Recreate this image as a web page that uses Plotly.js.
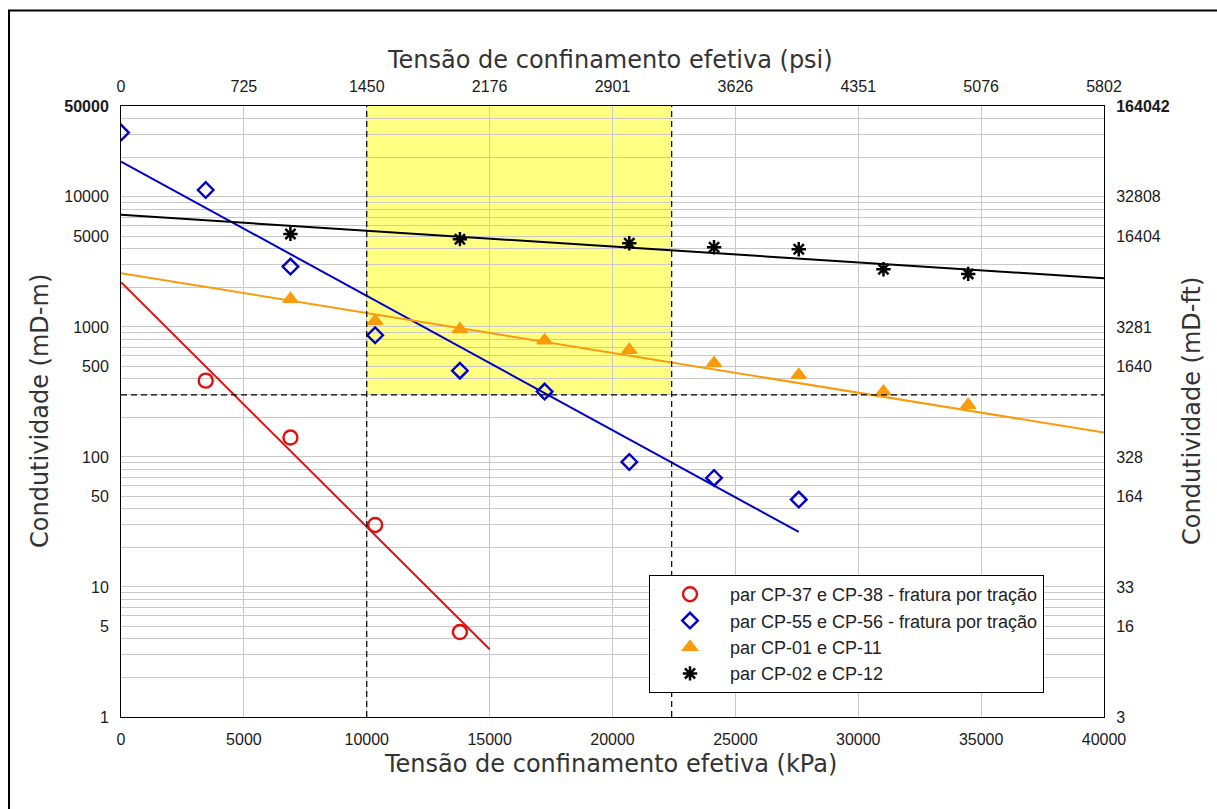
<!DOCTYPE html>
<html>
<head>
<meta charset="utf-8">
<script src="https://cdn.plot.ly/plotly-3.0.1.min.js"></script>
<style>
  html, body { margin: 0; padding: 0; background: #ffffff; }
  #grafico { width: 1217px; height: 809px; }
</style>
</head>
<body>
<div id="grafico"></div>
<script>
// Ensaios de condutividade: pares de corpos de prova (CP)
const nomesSeries = [
  'par CP-37 e CP-38 - fratura por tração',
  'par CP-55 e CP-56 - fratura por tração',
  'par CP-01 e CP-11',
  'par CP-02 e CP-12'
];

// Tensão de confinamento efetiva (kPa) e condutividade (mD-m) medidas
const tensaoCP37 = [3447, 6895, 10342, 13790];
const condCP37 = [386, 141, 30, 4.5];

const tensaoCP55 = [0, 3447, 6895, 10342, 13790, 17237, 20684, 24132, 27579];
const condCP55 = [31250, 11300, 2910, 863, 461, 318, 91.5, 69, 47];

const tensaoCP01 = [6895, 10342, 13790, 17237, 20684, 24132, 27579, 31026, 34474];
const condCP01 = [1640, 1110, 960, 785, 665, 526, 427, 318, 251];

const tensaoCP02 = [6895, 13790, 20684, 24132, 27579, 31026, 34474];
const condCP02 = [5190, 4730, 4400, 4100, 3960, 2780, 2557];

// Curvas de ajuste exponencial (extremos de cada reta no gráfico semilog)
const ajusteTensaoCP37 = [0, 15000];
const ajusteCondCP37 = [2207, 3.32];
const ajusteTensaoCP55 = [0, 27579];
const ajusteCondCP55 = [18700, 26.5];
const ajusteTensaoCP01 = [0, 40000];
const ajusteCondCP01 = [2588, 154];
const ajusteTensaoCP02 = [0, 40000];
const ajusteCondCP02 = [7275, 2370];

// Janela de interesse: tensão entre 10000 e 22408 kPa, condutividade acima de 300 mD-m
const janelaTensao = [10000, 22408];
const janelaCondMin = 300;

// Eixos
const ticksKPa = [0, 5000, 10000, 15000, 20000, 25000, 30000, 35000, 40000];
const rotulosPsi = ['0', '725', '1450', '2176', '2901', '3626', '4351', '5076', '5802'];
const ticksCond = [1, 5, 10, 50, 100, 500, 1000, 5000, 10000, 50000];
const rotulosMDm = ['1', '5', '10', '50', '100', '500', '1000', '5000', '10000', '<b>50000</b>'];
const rotulosMDft = ['3', '16', '33', '164', '328', '1640', '3281', '16404', '32808', '<b>164042</b>'];
const gradeSecundaria = [2, 3, 4, 6, 7, 8, 9, 20, 30, 40, 60, 70, 80, 90,
  200, 300, 400, 600, 700, 800, 900, 2000, 3000, 4000, 6000, 7000, 8000, 9000,
  20000, 30000, 40000];

const W = 1217, H = 809;
const M = { l: 121, r: 113, t: 106, b: 92 };
const pw = W - M.l - M.r, ph = H - M.t - M.b;
const px = x => (x - M.l) / pw;
const py = y => (H - M.b - y) / ph;

const corVermelho = '#e01010';
const corAzul = '#0000c8';
const corLaranja = '#f99b0c';
const corPreto = '#000000';
const fonteNum = 'Liberation Sans, Arial, sans-serif';
const fonteTitulo = 'DejaVu Sans, sans-serif';

const linha = (x, y, cor) => ({
  x, y, type: 'scatter', mode: 'lines', showlegend: false, hoverinfo: 'skip',
  line: { color: cor, width: 2 }
});

const traces = [
  linha(ajusteTensaoCP37, ajusteCondCP37, corVermelho),
  linha(ajusteTensaoCP55, ajusteCondCP55, corAzul),
  linha(ajusteTensaoCP01, ajusteCondCP01, corLaranja),
  linha(ajusteTensaoCP02, ajusteCondCP02, corPreto),
  {
    x: tensaoCP37, y: condCP37, name: nomesSeries[0], type: 'scatter', mode: 'markers',
    marker: { symbol: 'circle-open', size: 14, color: corVermelho, line: { width: 2.4, color: corVermelho } }
  },
  {
    x: tensaoCP55, y: condCP55, name: nomesSeries[1], type: 'scatter', mode: 'markers',
    marker: { symbol: 'diamond-open', size: 12, color: corAzul, line: { width: 2.4, color: corAzul } }
  },
  {
    x: tensaoCP01, y: condCP01, name: nomesSeries[2], type: 'scatter', mode: 'markers',
    marker: { symbol: 'triangle-up', size: 13, color: corLaranja, line: { width: 1.5, color: corLaranja } }
  },
  {
    x: tensaoCP02, y: condCP02, name: nomesSeries[3], type: 'scatter', mode: 'markers',
    marker: { symbol: 'asterisk-open', size: 12, color: corPreto, line: { width: 2.5, color: corPreto } }
  },
  // eixos secundários (psi no topo, mD-ft à direita)
  { x: [], y: [], xaxis: 'x2', yaxis: 'y2', type: 'scatter', mode: 'markers', showlegend: false, hoverinfo: 'skip' }
];

const corGrade = '#c8c8c8';
const logMax = Math.log10(50000);
const tracejado = { color: '#000000', width: 1.2, dash: '6px,4px' };
const fonteTick = { family: fonteNum, size: 16, color: '#1a1a1a' };
const fonteEixo = { family: fonteTitulo, size: 24, color: '#333333' };

const layout = {
  width: W, height: H,
  margin: M,
  paper_bgcolor: '#ffffff',
  plot_bgcolor: '#ffffff',
  showlegend: true,
  legend: {
    x: px(649), y: py(575), xanchor: 'left', yanchor: 'top',
    bgcolor: '#ffffff', bordercolor: '#000000', borderwidth: 1,
    font: { family: fonteNum, size: 18, color: '#222222' },
    itemwidth: 70, tracegroupgap: 0
  },
  xaxis: {
    range: [0, 40000], tickvals: ticksKPa, ticktext: ticksKPa.map(String),
    showgrid: true, gridcolor: corGrade, gridwidth: 1, zeroline: false,
    showline: true, linecolor: '#000000', linewidth: 1,
    ticks: '', ticklabelstandoff: 8, tickfont: fonteTick
  },
  xaxis2: {
    overlaying: 'x', side: 'top', anchor: 'y',
    range: [0, 40000], tickvals: ticksKPa, ticktext: rotulosPsi,
    showgrid: false, zeroline: false,
    showline: true, linecolor: '#000000', linewidth: 1,
    ticks: '', ticklabelstandoff: 7, tickfont: fonteTick
  },
  yaxis: {
    type: 'log', range: [0, logMax],
    tickvals: ticksCond, ticktext: rotulosMDm,
    showgrid: true, gridcolor: corGrade, gridwidth: 1, zeroline: false,
    showline: true, linecolor: '#000000', linewidth: 1,
    ticks: '', ticklabelstandoff: 8, tickfont: fonteTick,
    minor: { tickvals: gradeSecundaria, showgrid: true, gridcolor: corGrade, gridwidth: 1, ticks: '' }
  },
  yaxis2: {
    type: 'log', range: [0, logMax], overlaying: 'y', side: 'right', anchor: 'x',
    tickvals: ticksCond, ticktext: rotulosMDft,
    showgrid: false, zeroline: false,
    showline: true, linecolor: '#000000', linewidth: 1,
    ticks: '', ticklabelstandoff: 8, tickfont: fonteTick
  },
  shapes: [
    // região de interesse
    {
      type: 'rect', xref: 'x', yref: 'y', layer: 'below',
      x0: janelaTensao[0], x1: janelaTensao[1], y0: janelaCondMin, y1: 50000,
      fillcolor: '#ffff82', line: { width: 0 }
    },
    {
      type: 'line', xref: 'x', yref: 'paper', layer: 'above',
      x0: janelaTensao[0], x1: janelaTensao[0], y0: 0, y1: 1, line: tracejado
    },
    {
      type: 'line', xref: 'x', yref: 'paper', layer: 'above',
      x0: janelaTensao[1], x1: janelaTensao[1], y0: 0, y1: 1, line: tracejado
    },
    {
      type: 'line', xref: 'paper', yref: 'y', layer: 'above',
      x0: 0, x1: 1, y0: janelaCondMin, y1: janelaCondMin, line: tracejado
    },
    // moldura da figura
    {
      type: 'line', xref: 'paper', yref: 'paper',
      x0: px(9), x1: px(9), y0: py(10), y1: py(H + 5),
      line: { color: '#000000', width: 2 }
    },
    {
      type: 'line', xref: 'paper', yref: 'paper',
      x0: px(8), x1: px(W + 5), y0: py(10.5), y1: py(10.5),
      line: { color: '#000000', width: 2 }
    }
  ],
  annotations: [
    {
      text: 'Tensão de confinamento efetiva (kPa)', xref: 'paper', yref: 'paper',
      x: px(610), y: py(764), xanchor: 'center', yanchor: 'middle', showarrow: false,
      font: fonteEixo
    },
    {
      text: 'Tensão de confinamento efetiva (psi)', xref: 'paper', yref: 'paper',
      x: px(610), y: py(60), xanchor: 'center', yanchor: 'middle', showarrow: false,
      font: fonteEixo
    },
    {
      text: 'Condutividade (mD-m)', xref: 'paper', yref: 'paper', textangle: -90,
      x: px(40), y: py(411), xanchor: 'center', yanchor: 'middle', showarrow: false,
      font: fonteEixo
    },
    {
      text: 'Condutividade (mD-ft)', xref: 'paper', yref: 'paper', textangle: -90,
      x: px(1192), y: py(411), xanchor: 'center', yanchor: 'middle', showarrow: false,
      font: fonteEixo
    }
  ]
};

Plotly.newPlot('grafico', traces, layout, { staticPlot: true, displayModeBar: false });
</script>
</body>
</html>
